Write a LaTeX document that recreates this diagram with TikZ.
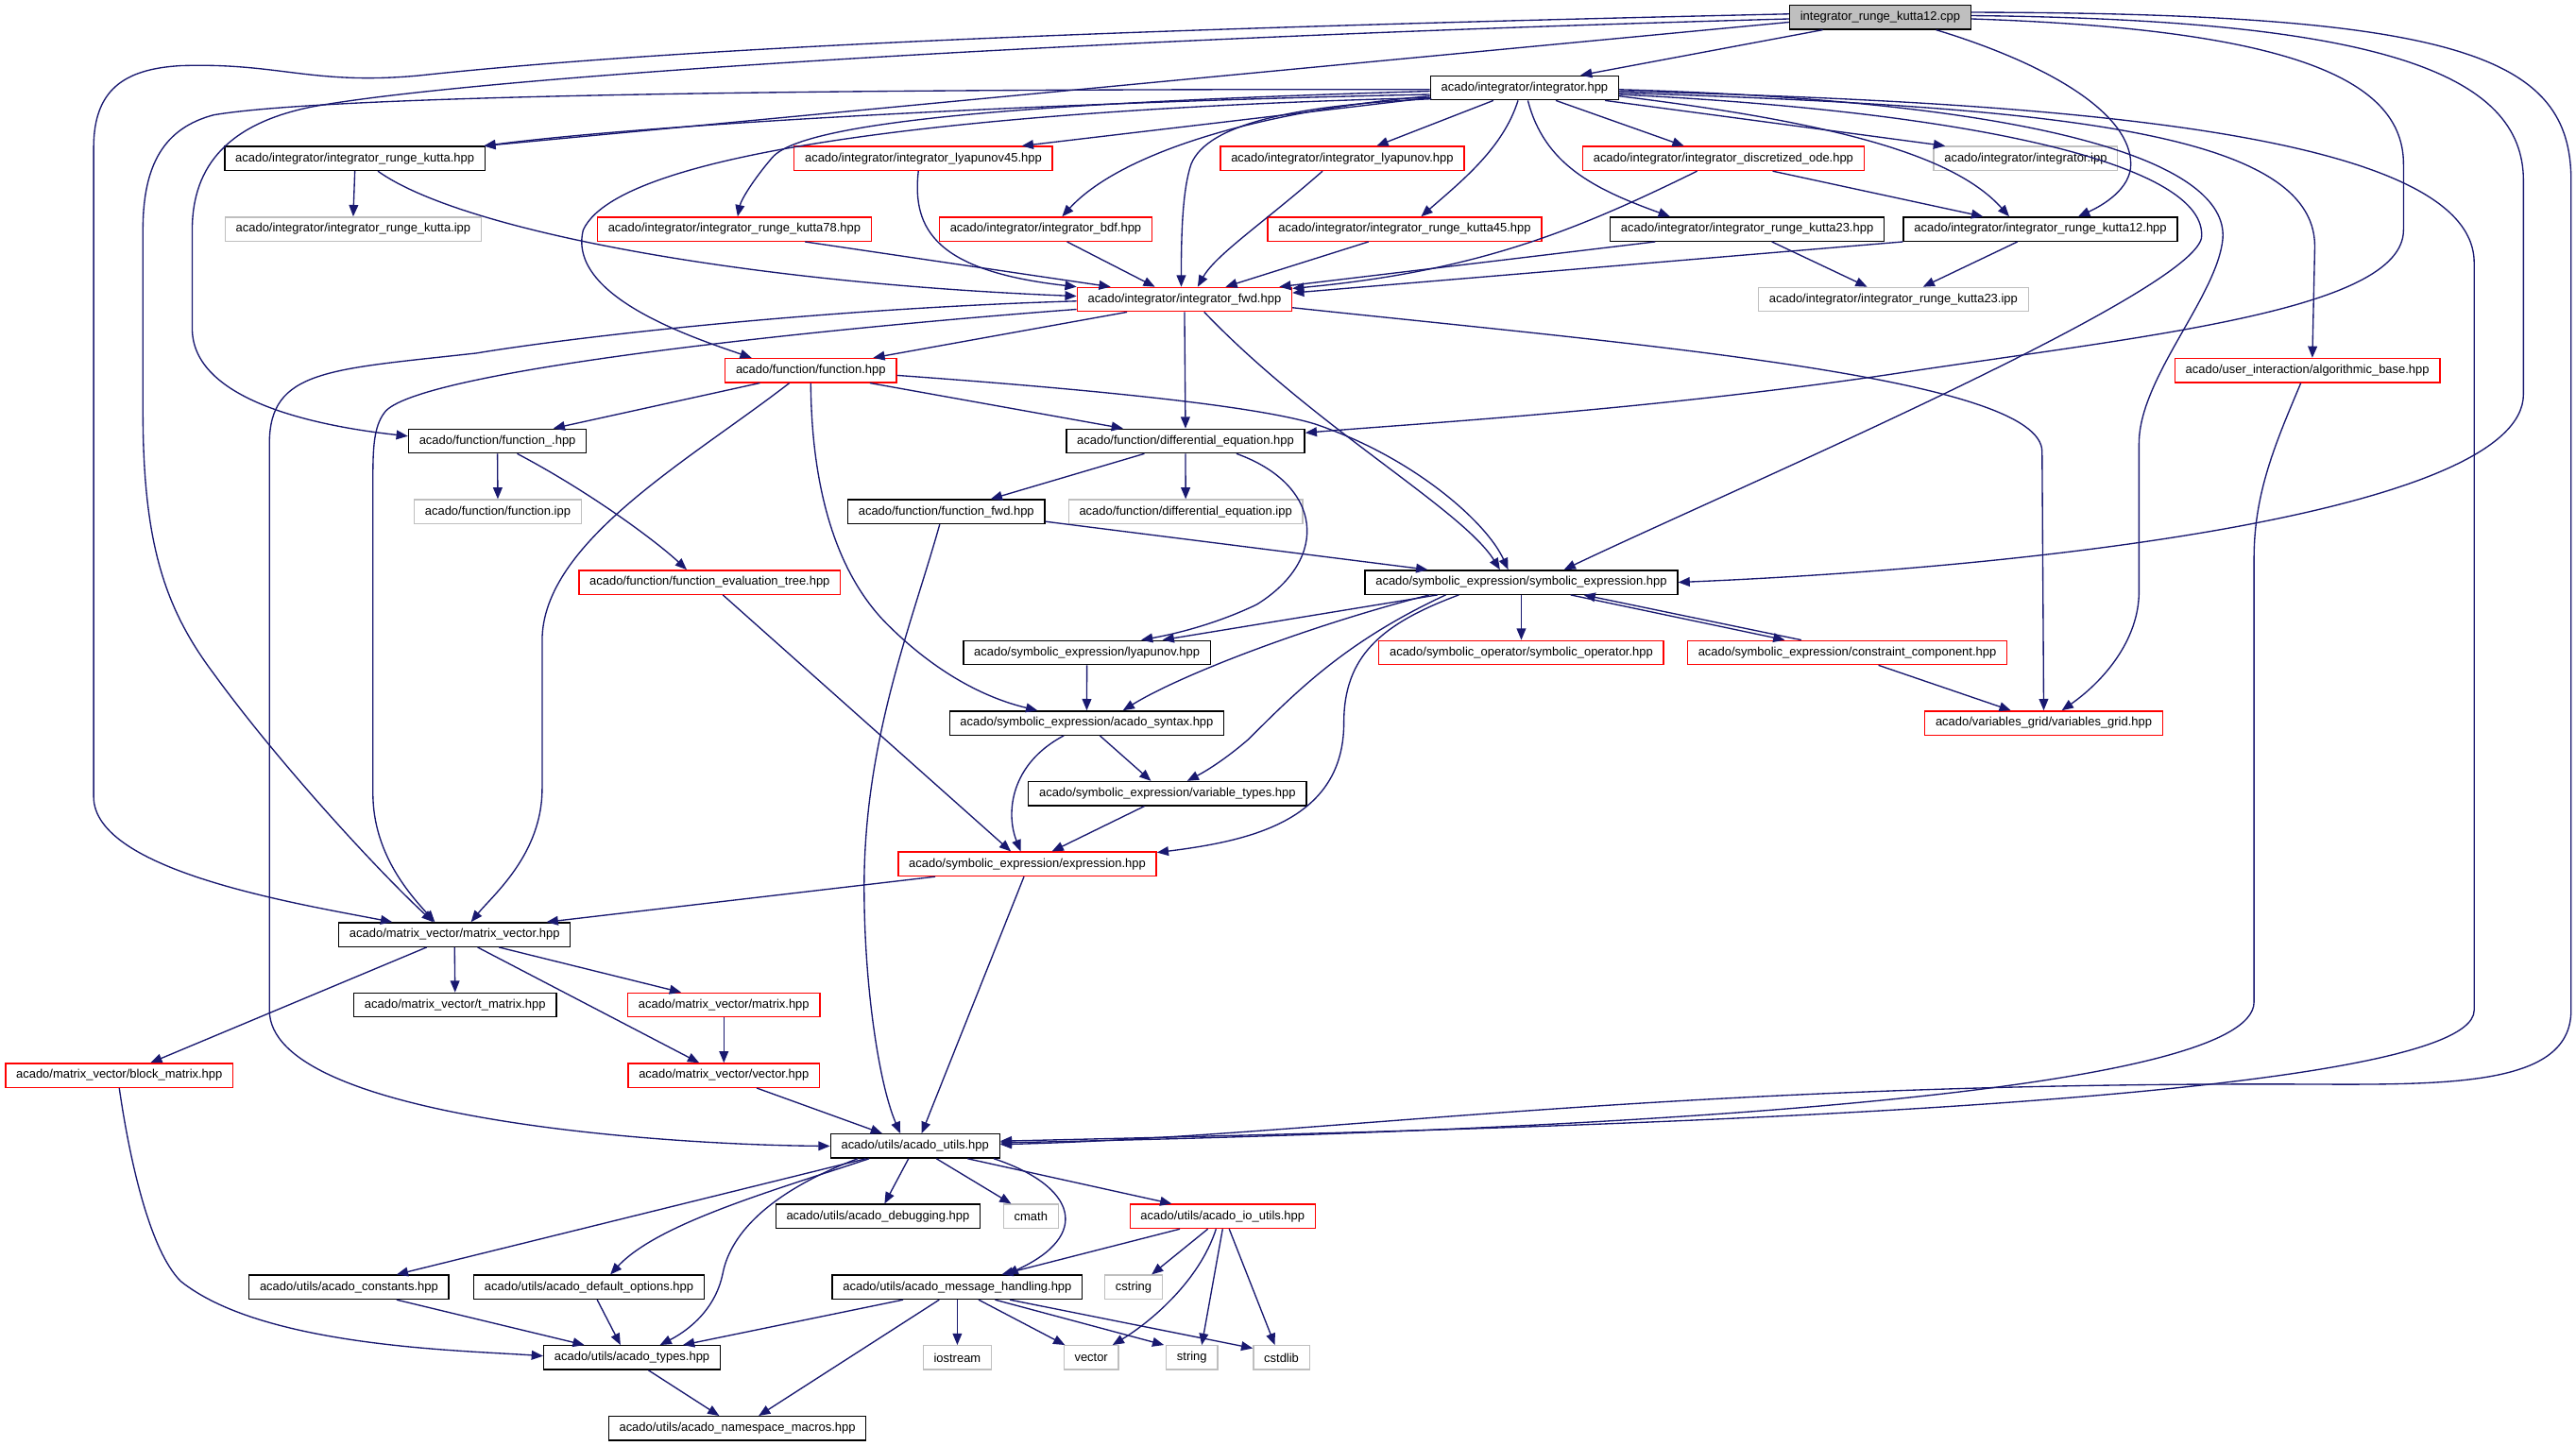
\documentclass[tikz,border=0pt]{standalone}
\usepackage{fontspec}
\setmainfont{Liberation Sans}
\usetikzlibrary{arrows.meta,calc}
\definecolor{edgeblue}{RGB}{25,25,112}
\definecolor{boxgray}{RGB}{191,191,191}
\definecolor{boxred}{RGB}{255,0,0}

\begin{document}
\begin{tikzpicture}[
  x=0.05cm, y=-0.05cm,
  filebox/.style={draw=black, fill=white, line width=1.1pt, inner xsep=0.325cm, inner ysep=0pt, minimum height=0.73cm, font=\fontsize{10.6}{12}\selectfont},
  redbox/.style={filebox, draw=boxred},
  graybox/.style={filebox, draw=boxgray},
  rootbox/.style={filebox, fill=boxgray},
  dep/.style={-{Triangle[length=10pt,width=8pt]}, line width=1.1pt, edgeblue}
]
\useasboundingbox (0,0) rectangle (1568,880);

% ================= FILES =================
\node[rootbox] (cpp) at (1144.5,10.5) {integrator\_runge\_kutta12.cpp};
\node[filebox] (integ) at (928,53.5) {acado/integrator/integrator.hpp};

% --- integrator headers ---
\node[filebox] (rkhpp) at (216,96.5) {acado/integrator/integrator\_runge\_kutta.hpp};
\node[redbox] (lyap45) at (562,96.5) {acado/integrator/integrator\_lyapunov45.hpp};
\node[redbox] (lyap) at (817,96.5) {acado/integrator/integrator\_lyapunov.hpp};
\node[redbox] (discode) at (1049,96.5) {acado/integrator/integrator\_discretized\_ode.hpp};
\node[graybox] (integipp) at (1233,96.5) {acado/integrator/integrator.ipp};
\node[graybox] (rkipp) at (215,139.5) {acado/integrator/integrator\_runge\_kutta.ipp};
\node[redbox] (rk78) at (447,139.5) {acado/integrator/integrator\_runge\_kutta78.hpp};
\node[redbox] (bdf) at (636.5,139.5) {acado/integrator/integrator\_bdf.hpp};
\node[redbox] (rk45) at (855,139.5) {acado/integrator/integrator\_runge\_kutta45.hpp};
\node[filebox] (rk23) at (1063.5,139.5) {acado/integrator/integrator\_runge\_kutta23.hpp};
\node[filebox] (rk12) at (1242,139.5) {acado/integrator/integrator\_runge\_kutta12.hpp};
\node[redbox] (fwd) at (721,182.3) {acado/integrator/integrator\_fwd.hpp};
\node[graybox] (rk23ipp) at (1152.5,182.3) {acado/integrator/integrator\_runge\_kutta23.ipp};

% --- function ---
\node[redbox] (func) at (493.5,225.5) {acado/function/function.hpp};
\node[redbox] (algbase) at (1404.5,225.5) {acado/user\_interaction/algorithmic\_base.hpp};
\node[filebox] (funcu) at (302.8,268.5) {acado/function/function\_.hpp};
\node[filebox] (diffeq) at (721.6,268.5) {acado/function/differential\_equation.hpp};
\node[graybox] (funcipp) at (303,311.5) {acado/function/function.ipp};
\node[filebox] (funcfwd) at (576,311.5) {acado/function/function\_fwd.hpp};
\node[graybox] (diffeqipp) at (721.7,311.5) {acado/function/differential\_equation.ipp};
\node[redbox] (evaltree) at (432,354.5) {acado/function/function\_evaluation\_tree.hpp};

% --- symbolic expression ---
\node[filebox] (symexpr) at (926,354.5) {acado/symbolic\_expression/symbolic\_expression.hpp};
\node[filebox] (symlyap) at (661.6,397.3) {acado/symbolic\_expression/lyapunov.hpp};
\node[redbox] (symop) at (926,397.3) {acado/symbolic\_operator/symbolic\_operator.hpp};
\node[redbox] (constr) at (1124.4,397.3) {acado/symbolic\_expression/constraint\_component.hpp};
\node[filebox] (syntax) at (661.5,440.2) {acado/symbolic\_expression/acado\_syntax.hpp};
\node[redbox] (vgrid) at (1244,440.2) {acado/variables\_grid/variables\_grid.hpp};
\node[filebox] (vartypes) at (710.6,483.1) {acado/symbolic\_expression/variable\_types.hpp};
\node[redbox] (expr) at (625.3,526) {acado/symbolic\_expression/expression.hpp};

% --- matrix / vector ---
\node[filebox] (matvec) at (276.7,569) {acado/matrix\_vector/matrix\_vector.hpp};
\node[filebox] (tmat) at (277,611.8) {acado/matrix\_vector/t\_matrix.hpp};
\node[redbox] (matrix) at (440.6,611.8) {acado/matrix\_vector/matrix.hpp};
\node[redbox] (blockmat) at (72.6,654.7) {acado/matrix\_vector/block\_matrix.hpp};
\node[redbox] (vectorh) at (440.6,654.7) {acado/matrix\_vector/vector.hpp};

% --- utils ---
\node[filebox] (utils) at (557,697.7) {acado/utils/acado\_utils.hpp};
\node[filebox] (debug) at (534.4,740.5) {acado/utils/acado\_debugging.hpp};
\node[graybox] (cmath) at (627.5,740.5) {cmath};
\node[redbox] (ioutils) at (744.2,740.5) {acado/utils/acado\_io\_utils.hpp};
\node[filebox] (constants) at (212.4,783.6) {acado/utils/acado\_constants.hpp};
\node[filebox] (defopt) at (358.5,783.6) {acado/utils/acado\_default\_options.hpp};
\node[filebox] (msghand) at (582.7,783.6) {acado/utils/acado\_message\_handling.hpp};
\node[graybox] (cstring) at (690,783.6) {cstring};
\node[filebox] (types) at (384.7,826.5) {acado/utils/acado\_types.hpp};
\node[graybox] (iostream) at (582.7,826.5) {iostream};
\node[graybox] (vector) at (664.2,826.5) {vector};
\node[graybox] (string) at (725.5,826.5) {string};
\node[graybox] (cstdlib) at (780,826.5) {cstdlib};
\node[filebox] (nsmacros) at (448.8,869.6) {acado/utils/acado\_namespace\_macros.hpp};

% ================= INCLUDES =================
% --- from the .cpp ---
\draw[dep] ($(cpp.south)+(-35,0)$) -- ($(integ.north)+(34,0)$);
\draw[dep] ($(cpp.west)+(0,3)$) -- ($(rkhpp.north east)+(-1,0)$);
\draw[dep] ($(cpp.west)+(0,1)$) .. controls (700,22) and (300,45) .. (190,65) .. controls (140,75) and (117,100) .. (117,140) -- (117,200) .. controls (117,240) and (180,258) .. ($(funcu.west)+(0,-3)$);
\draw[dep] ($(cpp.west)+(0,-2)$) .. controls (800,15) and (450,25) .. (255,46) .. controls (190,52) and (170,38) .. (110,40) .. controls (75,42) and (57,55) .. (57,90) -- (57,485) .. controls (57,530) and (180,550) .. ($(matvec.north)+(-38,0)$);
\draw[dep] ($(cpp.south)+(34,0)$) .. controls (1250,40) and (1297,70) .. (1297,100) .. controls (1297,115) and (1280,125) .. ($(rk12.north)+(23,0)$);
\draw[dep] ($(cpp.east)+(0,1)$) .. controls (1400,18) and (1463,50) .. (1463,100) -- (1463,140) .. controls (1463,190) and (1300,205) .. (1150,228) .. controls (1000,250) and (860,258) .. ($(diffeq.east)+(0,-5)$);
\draw[dep] ($(cpp.east)+(0,-1)$) .. controls (1450,12) and (1536,45) .. (1536,110) -- (1536,240) .. controls (1536,310) and (1250,345) .. (symexpr.east);
\draw[dep] ($(cpp.east)+(0,-3)$) .. controls (1500,8) and (1565,35) .. (1565,110) -- (1565,615) .. controls (1565,665) and (1480,660) .. (1380,660) .. controls (1000,660) and (800,692) .. ($(utils.east)+(0,-1)$);

% --- from integrator.hpp ---
\draw[dep] ($(integ.west)+(0,4)$) .. controls (650,62) and (400,75) .. ($(rkhpp.north east)+(-1,0)$);
\draw[dep] ($(integ.west)+(0,6)$) -- ($(lyap45.north)+(60,0)$);
\draw[dep] ($(integ.south)+(-19,0)$) -- ($(lyap.north)+(21,0)$);
\draw[dep] ($(integ.south)+(19,0)$) -- ($(discode.north)+(-24,0)$);
\draw[dep] ($(integ.south)+(49,0)$) -- ($(integipp.north)+(-49,0)$);
\draw[dep] ($(integ.west)+(0,2)$) .. controls (650,62) and (490,72) .. (470,96) .. controls (458,110) and (451,122) .. ($(rk78.north)+(2,0)$);
\draw[dep] ($(integ.west)+(0,5)$) .. controls (760,68) and (680,95) .. ($(bdf.north)+(10,0)$);
\draw[dep] ($(integ.south west)+(1,-1)$) .. controls (790,64) and (735,75) .. (725,100) .. controls (720,115) and (719,140) .. ($(fwd.north)+(-2,0)$);
\draw[dep] ($(integ.south)+(-4,0)$) .. controls (915,90) and (890,110) .. ($(rk45.north)+(10,0)$);
\draw[dep] ($(integ.south)+(2,0)$) .. controls (940,100) and (970,115) .. ($(rk23.north)+(-47,0)$);
\draw[dep] ($(integ.east)+(0,5)$) .. controls (1120,75) and (1190,95) .. ($(rk12.north)+(-19,0)$);
\draw[dep] ($(integ.west)+(0,6)$) .. controls (650,65) and (380,85) .. (355,140) .. controls (345,180) and (420,205) .. ($(func.north)+(-36,0)$);
\draw[dep] ($(integ.west)+(0,1)$) .. controls (500,54) and (200,58) .. (130,70) .. controls (100,78) and (87,100) .. (87,140) -- (87,250) .. controls (87,330) and (100,370) .. (130,410) .. controls (170,465) and (230,530) .. ($(matvec.north)+(-13,0)$);
\draw[dep] ($(integ.east)+(0,3)$) .. controls (1250,65) and (1409,80) .. (1409,150) -- ($(algbase.north)+(3,0)$);
\draw[dep] ($(integ.east)+(0,1)$) .. controls (1250,62) and (1356,100) .. (1353,145) .. controls (1350,180) and (1302,230) .. (1302,270) -- (1302,360) .. controls (1302,390) and (1280,415) .. ($(vgrid.north)+(11,0)$);
\draw[dep] ($(integ.east)+(0,4)$) .. controls (1200,68) and (1345,100) .. (1340,145) .. controls (1332,180) and (1050,300) .. ($(symexpr.north)+(26,0)$);
\draw[dep] ($(integ.east)+(0,2)$) .. controls (1250,62) and (1506,80) .. (1506,160) -- (1506,615) .. controls (1506,675) and (900,688) .. ($(utils.east)+(0,-3)$);

% --- integrator level ---
\draw[dep] (rkhpp.south) -- (rkipp.north);
\draw[dep] ($(rkhpp.south)+(14,0)$) .. controls (280,140) and (450,172) .. ($(fwd.west)+(0,-2)$);
\draw[dep] ($(lyap45.south)+(-3,0)$) .. controls (555,140) and (570,165) .. (fwd.north west);
\draw[dep] ($(lyap.south)+(-12,0)$) .. controls (770,135) and (740,155) .. ($(fwd.north)+(8,0)$);
\draw[dep] ($(discode.south)+(-16,0)$) .. controls (960,140) and (900,165) .. ($(fwd.north east)+(0,1)$);
\draw[dep] ($(discode.south)+(30,0)$) -- ($(rk12.north)+(-35,0)$);
\draw[dep] ($(rk78.south)+(43,0)$) -- ($(fwd.north)+(-45,0)$);
\draw[dep] ($(bdf.south)+(13,0)$) -- ($(fwd.north)+(-18,0)$);
\draw[dep] ($(rk45.south)+(-22,0)$) -- ($(fwd.north)+(25,0)$);
\draw[dep] ($(rk23.south)+(-56,0)$) -- ($(fwd.north east)+(-8,0)$);
\draw[dep] ($(rk23.south)+(15,0)$) -- ($(rk23ipp.north)+(-16,0)$);
\draw[dep] (rk12.south west) -- ($(fwd.east)+(0,-4)$);
\draw[dep] ($(rk12.south)+(-14,0)$) -- ($(rk23ipp.north)+(18,0)$);

% --- from integrator_fwd.hpp ---
\draw[dep] ($(fwd.south)+(-35,0)$) -- ($(func.north)+(38,0)$);
\draw[dep] (fwd.south) -- (diffeq.north);
\draw[dep] ($(fwd.south)+(12,0)$) .. controls (800,260) and (890,310) .. ($(symexpr.north)+(-13,0)$);
\draw[dep] ($(fwd.east)+(0,5)$) .. controls (1000,210) and (1243,230) .. (1243,275) -- (vgrid.north);
\draw[dep] ($(fwd.west)+(0,6)$) .. controls (500,200) and (260,225) .. (235,250) .. controls (228,258) and (227,270) .. (227,290) -- (227,483) .. controls (227,520) and (250,545) .. ($(matvec.north)+(-12,0)$);
\draw[dep] ($(fwd.west)+(0,1)$) .. controls (500,188) and (350,205) .. (290,215) .. controls (200,225) and (164,225) .. (164,270) -- (164,615) .. controls (164,680) and (400,697) .. (utils.west);

% --- function level ---
\draw[dep] ($(func.south)+(-31,0)$) -- ($(funcu.north)+(34,0)$);
\draw[dep] ($(func.south)+(36,0)$) -- ($(diffeq.north)+(-38,0)$);
\draw[dep] ($(func.east)+(0,3)$) .. controls (650,236) and (760,246) .. (800,258) .. controls (860,278) and (905,318) .. ($(symexpr.north)+(-8,0)$);
\draw[dep] ($(func.south)+(-13,0)$) .. controls (420,280) and (330,330) .. (330,390) -- (330,480) .. controls (330,520) and (300,545) .. ($(matvec.north)+(10,0)$);
\draw[dep] (func.south) .. controls (494,300) and (510,350) .. (540,380) .. controls (570,410) and (600,425) .. ($(syntax.north)+(-30,0)$);
\draw[dep] (funcu.south) -- (funcipp.north);
\draw[dep] ($(funcu.south)+(12,0)$) .. controls (360,300) and (400,330) .. ($(evaltree.north)+(-14,0)$);
\draw[dep] ($(diffeq.south)+(-25,0)$) -- ($(funcfwd.north)+(27,0)$);
\draw[dep] (diffeq.south) -- (diffeqipp.north);
\draw[dep] ($(diffeq.south)+(31,0)$) .. controls (805,295) and (810,340) .. (765,368) .. controls (740,380) and (715,386) .. ($(symlyap.north)+(33,0)$);
\draw[dep] ($(funcfwd.east)+(0,6)$) -- ($(symexpr.north)+(-57,0)$);
\draw[dep] ($(funcfwd.south)+(-4,0)$) .. controls (555,380) and (526,450) .. (526,540) .. controls (526,600) and (535,660) .. ($(utils.north)+(-9,0)$);
\draw[dep] ($(evaltree.south)+(8,0)$) -- ($(expr.north)+(-10,0)$);

% --- symbolic expression level ---
\draw[dep] ($(symexpr.south)+(-51,0)$) -- ($(symlyap.north)+(46,0)$);
\draw[dep] (symexpr.south) -- (symop.north);
\draw[dep] ($(symexpr.south)+(30,0)$) -- ($(constr.north)+(-38,0)$);
\draw[dep] ($(constr.north)+(-28,0)$) -- ($(symexpr.south)+(38,0)$);
\draw[dep] ($(symexpr.south)+(-56,0)$) .. controls (800,380) and (720,410) .. ($(syntax.north)+(22,0)$);
\draw[dep] ($(symexpr.south)+(-46,0)$) .. controls (820,390) and (790,420) .. (760,450) .. controls (745,463) and (733,470) .. ($(vartypes.north)+(12,0)$);
\draw[dep] ($(symexpr.south)+(-38,0)$) .. controls (840,380) and (818,400) .. (818,440) .. controls (818,500) and (760,512) .. ($(expr.east)+(0,-7)$);
\draw[dep] (symlyap.south) -- (syntax.north);
\draw[dep] ($(constr.south)+(19,0)$) -- ($(vgrid.north)+(-20,0)$);
\draw[dep] ($(syntax.south)+(8,0)$) -- ($(vartypes.north)+(-10,0)$);
\draw[dep] ($(syntax.south)+(-14,0)$) .. controls (615,465) and (612,495) .. ($(expr.north)+(-4,0)$);
\draw[dep] ($(vartypes.south)+(-14,0)$) -- ($(expr.north)+(15,0)$);
\draw[dep] ($(expr.south)+(-56,0)$) -- ($(matvec.north)+(56,0)$);
\draw[dep] ($(expr.south)+(-2,0)$) -- ($(utils.north)+(4,0)$);
\draw[dep] ($(algbase.south)+(-4,0)$) .. controls (1385,270) and (1372,300) .. (1372,340) -- (1372,610) .. controls (1372,665) and (1000,688) .. ($(utils.east)+(0,-2)$);

% --- matrix / vector level ---
\draw[dep] (matvec.south) -- (tmat.north);
\draw[dep] ($(matvec.south)+(27,0)$) -- ($(matrix.north)+(-26,0)$);
\draw[dep] ($(matvec.south)+(14,0)$) -- ($(vectorh.north)+(-15,0)$);
\draw[dep] ($(matvec.south)+(-17,0)$) -- ($(blockmat.north)+(19,0)$);
\draw[dep] (matrix.south) -- (vectorh.north);
\draw[dep] ($(vectorh.south)+(20,0)$) -- ($(utils.north)+(-20,0)$);
\draw[dep] (blockmat.south) .. controls (78,700) and (90,760) .. (110,780) .. controls (160,820) and (280,822) .. ($(types.west)+(0,-1)$);

% --- utils level ---
\draw[dep] ($(utils.south)+(-4,0)$) -- ($(debug.north)+(4,0)$);
\draw[dep] ($(utils.south)+(13,0)$) -- ($(cmath.north)+(-12,0)$);
\draw[dep] ($(utils.south)+(32,0)$) -- ($(ioutils.north)+(-31,0)$);
\draw[dep] ($(utils.south)+(-30,0)$) -- ($(constants.north)+(29,0)$);
\draw[dep] ($(utils.south)+(-28,0)$) .. controls (470,725) and (400,745) .. ($(defopt.north)+(13,0)$);
\draw[dep] ($(utils.south)+(48,0)$) .. controls (655,722) and (665,752) .. ($(msghand.north)+(30,0)$);
\draw[dep] ($(utils.south)+(-35,0)$) .. controls (470,725) and (445,750) .. (440,775) .. controls (435,800) and (415,812) .. ($(types.north)+(17,0)$);
\draw[dep] ($(ioutils.south)+(-26,0)$) -- ($(msghand.north)+(27,0)$);
\draw[dep] ($(ioutils.south)+(-9,0)$) -- ($(cstring.north)+(11,0)$);
\draw[dep] ($(ioutils.south)+(-4,0)$) .. controls (730,780) and (700,805) .. ($(vector.north)+(13,0)$);
\draw[dep] (ioutils.south) -- ($(string.north)+(6,0)$);
\draw[dep] ($(ioutils.south)+(4,0)$) -- ($(cstdlib.north)+(-4,0)$);
\draw[dep] ($(msghand.south)+(-33,0)$) -- ($(types.north)+(31,0)$);
\draw[dep] ($(msghand.south)+(-11,0)$) -- ($(nsmacros.north)+(13,0)$);
\draw[dep] (msghand.south) -- (iostream.north);
\draw[dep] ($(msghand.south)+(13,0)$) -- ($(vector.north)+(-16,0)$);
\draw[dep] ($(msghand.south)+(23,0)$) -- ($(string.north)+(-17,0)$);
\draw[dep] ($(msghand.south)+(32,0)$) -- ($(cstdlib.north west)+(0,2)$);
\draw[dep] ($(constants.south)+(29,0)$) -- ($(types.north)+(-29,0)$);
\draw[dep] ($(defopt.south)+(5,0)$) -- ($(types.north)+(-7,0)$);
\draw[dep] ($(types.south)+(10,0)$) -- ($(nsmacros.north)+(-11,0)$);
\end{tikzpicture}
\end{document}
